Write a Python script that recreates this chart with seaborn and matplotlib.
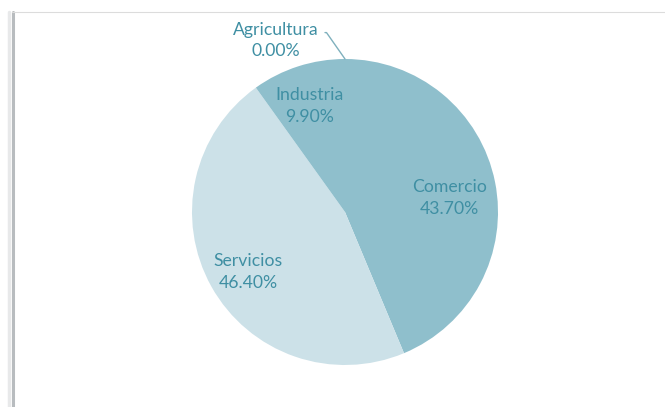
import matplotlib
matplotlib.use("Agg")
import matplotlib.pyplot as plt
from matplotlib.lines import Line2D
import numpy as np
import seaborn as sns

sectores = ["Agricultura", "Comercio", "Servicios", "Industria"]
porcentajes = [0.00, 43.70, 46.40, 9.90]
colores = ["#8fbfcc", "#8fbfcc", "#cce1e8", "#8fbfcc"]

TEXT_COLOR = "#3f8fa3"

sns.set_theme(style="white")
plt.rcParams["font.family"] = ["Lato", "DejaVu Sans"]

fig = plt.figure(figsize=(6.65, 4.07), dpi=100)
W, H = 665, 407
cx, cy, r = 345, 407 - 212, 153
ax = fig.add_axes([(cx - r) / W, (cy - r) / H, 2 * r / W, 2 * r / H])

wedges, _ = ax.pie(porcentajes, colors=colores, startangle=90,
                   counterclock=False, radius=1.0,
                   wedgeprops={"linewidth": 0.5, "edgecolor": "none"})
# pie() resets the limits, so set them afterwards
ax.set_xlim(-1, 1)
ax.set_ylim(-1, 1)
ax.set_aspect("equal")
ax.axis("off")

# labels inside the slices: (radial distance, angle nudge in degrees)
lab_pos = {"Comercio": (0.69, -3.7), "Servicios": (0.745, 2.5),
           "Industria": (0.73, 0.5)}
for w, name, pct in zip(wedges, sectores, porcentajes):
    if pct == 0:
        continue
    d, nudge = lab_pos[name]
    ang = np.deg2rad((w.theta1 + w.theta2) / 2 + nudge)
    ax.text(d * np.cos(ang), d * np.sin(ang), f"{name}\n{pct:.2f}%",
            ha="center", va="center", color=TEXT_COLOR, fontsize=12.7,
            linespacing=1.45)

# zero slice gets a leader line
w0 = wedges[0]
a0 = np.deg2rad(w0.theta1)
ax.annotate(f"{sectores[0]}\n{porcentajes[0]:.2f}%",
            xy=(np.cos(a0), np.sin(a0)), xytext=(-0.45, 1.12),
            ha="center", va="center", color=TEXT_COLOR, fontsize=12.7,
            linespacing=1.35, annotation_clip=False,
            arrowprops=dict(arrowstyle="-", color="#7fb0bd", lw=1.0,
                            shrinkA=2, shrinkB=0, relpos=(1.0, 0.72),
                            connectionstyle="angle,angleA=0,angleB=125,rad=0"))

# frame lines of the original screenshot
fig.add_artist(Line2D([12.5 / W, 12.5 / W], [0, 1 - 12 / H],
                      transform=fig.transFigure, color="#b8bcbf", lw=2.2))
fig.add_artist(Line2D([9 / W, 9 / W], [0, 1 - 12 / H],
                      transform=fig.transFigure, color="#e8e9ea", lw=2.5))
fig.add_artist(Line2D([12 / W, 1], [1 - 12 / H, 1 - 12 / H],
                      transform=fig.transFigure, color="#dcdcdc", lw=0.8))

fig.savefig("out.png", dpi=100, facecolor="white")
